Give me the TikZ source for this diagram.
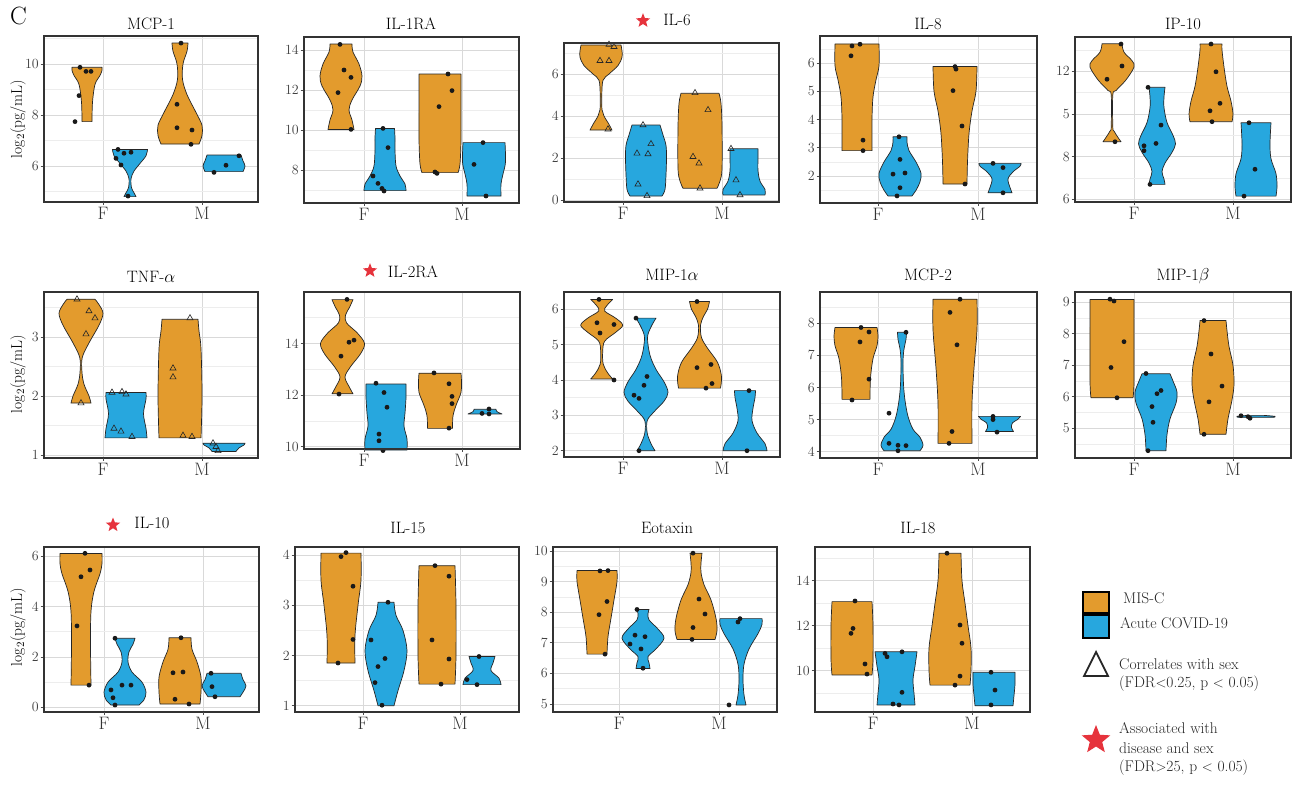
\documentclass[tikz,border=0pt]{standalone}
\usetikzlibrary{shapes.geometric}
\definecolor{orng}{HTML}{E39B2D}
\definecolor{blu}{HTML}{27A7DE}
\definecolor{gmaj}{HTML}{D9D9D9}
\definecolor{gmin}{HTML}{EDEDED}
\definecolor{strred}{HTML}{E6333C}
\tikzset{
 vio/.style={draw=black!85, line width=0.7pt, line join=round},
 gmajl/.style={gmaj, line width=0.8pt},
 gminl/.style={gmin, line width=0.5pt},
 tk/.style={black!70, line width=0.8pt},
 pfrm/.style={draw=black!80, line width=1.4pt},
 pdot/.style={circle, fill=black!90, inner sep=0pt, minimum size=4.8pt},
 tri/.style={regular polygon, regular polygon sides=3, draw=black!85, line width=0.6pt, inner sep=0pt, minimum size=7pt},
 tkl/.style={font=\fontsize{14}{16}\selectfont, text=black!75, inner sep=0pt, anchor=east},
 fm/.style={font=\fontsize{18}{20}\selectfont, text=black!80, anchor=base, inner sep=0pt},
 ttl/.style={font=\fontsize{16.5}{18}\selectfont, inner sep=0pt, anchor=base},
 rstar/.style={star, star points=5, star point ratio=2.3, fill=strred, draw=none, inner sep=0pt, minimum size=15pt},
 ylab/.style={font=\fontsize{15.5}{17}\selectfont, rotate=90, inner sep=0pt},
 leg/.style={font=\fontsize{15.5}{17}\selectfont, anchor=west, inner sep=0pt, text=black!85},
}
\newcommand\vio[3]{%
  \gdef\vR{}\gdef\vL{}%
  \foreach \vv/\ww in {#3}{%
    \xdef\vR{\vR (#1+\ww,\vv)}%
    \xdef\vL{(#1-\ww,\vv)\vL}%
  }%
  \edef\vcmd{\noexpand\filldraw[vio,fill=#2] plot[smooth,tension=0.55] coordinates {\vR} -- plot[smooth,tension=0.55] coordinates {\vL} -- cycle;}%
  \vcmd}
\newcommand\pts[1]{\foreach \px/\pv in {#1}{\node[pdot] at (\px,\pv) {};}}
\newcommand\tris[1]{\foreach \px/\pv in {#1}{\node[tri] at (\px,\pv) {};}}
\newcommand\hgr[4]{%
 \foreach \g in {#3}{\draw[gminl] (#1,\g) -- (#2,\g);}%
 \foreach \g/\lab in {#4}{\draw[gmajl] (#1,\g) -- (#2,\g); \draw[tk] (#1-3.5,\g) -- (#1,\g); \node[tkl] at (#1-5,\g) {\lab};}}
\newcommand\vgr[4]{\draw[gmajl] (#3,#1) -- (#3,#2); \draw[gmajl] (#4,#1) -- (#4,#2);}
\newcommand\frm[6]{%
 \draw[pfrm] (#1,#2) rectangle (#3,#4);
 \draw[tk] (#5,#4) -- ++(0,3); \draw[tk] (#6,#4) -- ++(0,3);
 \node[fm] at (#5,#4+17) {F}; \node[fm] at (#6,#4+17) {M};}
\begin{document}
\begin{tikzpicture}[x=1pt,y=-1pt]
\fill[white] (0,0) rectangle (1296,788);
\useasboundingbox (0,0) rectangle (1296,788);
\node[font=\fontsize{25}{27}\selectfont, anchor=base west, inner sep=0pt] (lab) at (10,24) {C};
\node[ylab] (y1) at (18,119) {log$_2$(pg/mL)};
\node[ylab] (y2) at (18,374) {log$_2$(pg/mL)};
\node[ylab] (y3) at (18,627) {log$_2$(pg/mL)};

% ---------- Panel 1 MCP-1
\vgr{36}{202}{103}{202}
\begin{scope}[shift={(0,319)},yscale=-25.5]
\hgr{44}{258}{5,7,9,11}{6/6,8/8,10/10}
\vio{87}{orng}{7.74/5, 8.5/5.5, 9.2/8, 9.55/13, 9.75/15, 9.87/15}
\vio{130}{blu}{4.8/6, 4.95/4, 5.15/1.5, 5.5/1, 5.8/4, 6.1/10, 6.4/16, 6.65/17.5}
\vio{180}{orng}{6.86/19, 7.2/22, 7.6/22, 8.1/16, 8.8/7, 9.4/2.5, 10.0/3, 10.5/7, 10.82/8}
\vio{224}{blu}{5.78/19, 6.0/21, 6.2/19, 6.43/17}
\pts{80/9.87, 86/9.71, 91/9.71, 79/8.76, 75/7.74, 118/6.65, 116/6.3, 124/6.5, 131/6.54, 121/6.04, 128/4.82, 181/10.82, 177/8.42, 177/7.5, 192/7.41, 191/6.85, 214/5.75, 226/6.03, 239/6.40}
\end{scope}
\frm{44}{36}{258}{202}{103}{202}
\node[ttl] (t1) at (151,29) {MCP-1};

% ---------- Panel 2 IL-1RA
\vgr{37}{203}{364}{462}
\begin{scope}[shift={(0,330)},yscale=-20]
\hgr{304}{519}{7,9,11,13}{8/8,10/10,12/12,14/14}
\vio{341}{orng}{10.03/13, 10.5/11, 11.0/8, 11.5/11, 12.2/19, 12.7/21, 13.3/18, 13.9/12, 14.3/11}
\vio{385}{blu}{6.97/21, 7.3/20, 7.7/15, 8.2/11, 9.0/10, 9.6/10, 10.08/9.5}
\vio{440}{orng}{7.87/18, 8.3/20, 9.5/21, 11/21, 12.8/21}
\vio{484}{blu}{6.7/17, 7.3/17, 7.8/19, 8.4/21.5, 9.37/21}
\pts{340/14.28, 344/13.0, 351/12.63, 338/11.87, 351/10.03, 383/10.08, 388/9.12, 373/7.7, 378/7.33, 382/7.08, 384/6.95, 448/12.8, 452/11.97, 439/11.17, 435/7.9, 437/7.83, 483/9.37, 474/8.28, 486/6.7}
\end{scope}
\frm{304}{37}{519}{203}{364}{462}
\node[ttl] (t2) at (411,29) {IL-1RA};

% ---------- Panel 3 IL-6
\vgr{43}{202}{623}{722}
\begin{scope}[shift={(0,200)},yscale=-21]
\hgr{564}{779}{1,3,5,7}{0/0,2/2,4/4,6/6}
\vio{601}{orng}{3.33/11, 3.6/8, 4.0/3, 4.3/1, 5.0/0.8, 5.7/2, 6.0/8, 6.4/17, 6.8/21, 7.1/21, 7.38/20}
\vio{646}{blu}{0.19/16, 0.5/19, 1.2/20, 2.0/20.5, 2.6/20, 3.1/17, 3.57/14}
\vio{700}{orng}{0.56/17, 0.9/20, 1.5/22, 3.5/22, 4.6/21, 5.08/19}
\vio{744}{blu}{0.24/21, 0.5/21, 0.9/16, 1.4/14, 2.0/14, 2.44/14}
\tris{609/7.4, 614/7.3, 600/6.63, 609/6.63, 608/3.37, 643/3.57, 651/2.67, 637/2.22, 648/2.19, 638/0.75, 647/0.2, 695/5.1, 708/4.29, 693/2.06, 699/1.75, 700/0.56, 731/2.44, 736/0.95, 740/0.24}
\end{scope}
\frm{564}{43}{779}{202}{623}{722}
\node[rstar] (s1) at (643,20.7) {};
\node[ttl] (t3) at (677,25) {IL-6};

% ---------- Panel 4 IL-8
\vgr{36}{203}{878}{978}
\begin{scope}[shift={(0,232.7)},yscale=-28.3]
\hgr{820}{1037}{1.5,2.5,3.5,4.5,5.5,6.5}{2/2,3/3,4/4,5/5,6/6}
\vio{857}{orng}{2.9/15, 4.0/15, 4.8/16, 5.4/19, 5.9/22, 6.67/22}
\vio{900}{blu}{1.3/12, 1.5/16, 1.8/20, 2.1/21, 2.5/16, 2.9/9, 3.2/7, 3.39/7}
\vio{955}{orng}{1.72/12, 2.5/12.5, 3.5/14, 4.3/17, 5.0/21, 5.87/22}
\vio{1000}{blu}{1.41/12, 1.6/10, 1.9/8, 2.15/13, 2.35/20, 2.45/21}
\pts{852/6.6, 860/6.66, 851/6.25, 863/3.27, 863/2.9, 899/3.39, 900/2.59, 893/2.07, 905/2.11, 900/1.59, 897/1.3, 955/5.87, 956/5.78, 953/5.02, 962/3.77, 965/1.72, 993/2.45, 1003/2.3, 1003/1.41}
\end{scope}
\frm{820}{36}{1037}{203}{878}{978}
\node[ttl] (t4) at (928,29) {IL-8};

% ---------- Panel 5 IP-10
\vgr{37}{202}{1134}{1233}
\begin{scope}[shift={(0,327.3)},yscale=-21.33]
\hgr{1075}{1291}{7,9,11,13}{6/6,8/8,10/5,12/12}
\vio{1112}{orng}{8.7/9, 8.9/6, 9.2/2, 9.4/0.8, 10.9/0.8, 11.1/4, 11.6/14, 12.2/22, 12.5/20, 12.9/12, 13.29/10}
\vio{1157}{blu}{6.7/8, 6.95/7, 7.3/5, 7.7/8, 8.2/15, 8.6/18.5, 9.0/16, 9.6/10, 10.3/7, 10.8/7, 11.25/8}
\vio{1211}{orng}{9.64/21, 10.0/22, 10.6/20, 11.3/16, 12.2/13, 13.0/11, 13.28/11}
\vio{1256}{blu}{6.15/20, 6.6/21, 7.2/20, 7.9/15, 8.6/14, 9.59/15}
\pts{1121/13.28, 1122/12.25, 1107/11.63, 1115/8.7, 1148/11.25, 1161/9.48, 1156/8.62, 1144/8.51, 1144/8.28, 1150/6.7, 1211/13.28, 1216/11.98, 1220/10.5, 1210/10.15, 1212/9.64, 1249/9.59, 1255/7.41, 1244/6.15}
\end{scope}
\frm{1075}{37}{1291}{202}{1134}{1233}
\node[ttl] (t5) at (1183,29) {IP-10};

% ---------- Panel 6 TNF-a
\vgr{292}{458}{103}{202}
\begin{scope}[shift={(0,514)},yscale=-59]
\hgr{44}{258}{1.5,2.5,3.5}{1/1,2/2,3/3}
\vio{81}{orng}{1.88/10, 2.0/8, 2.2/3, 2.4/1, 2.65/1.2, 2.9/8, 3.2/18, 3.4/22, 3.55/18, 3.64/14}
\vio{126}{blu}{1.29/21, 1.45/20, 1.7/17.5, 1.95/20, 2.06/20}
\vio{180}{orng}{1.29/21, 2.0/22, 2.8/21, 3.1/19, 3.30/18}
\vio{224}{blu}{1.06/12, 1.12/15, 1.17/20, 1.2/21}
\tris{77/3.64, 89/3.44, 95/3.32, 86/3.05, 81/1.88, 112/2.06, 122/2.07, 126/2.03, 114/1.45, 121/1.40, 132/1.31, 190/3.32, 173/2.47, 173/2.32, 183/1.33, 192/1.31, 213/1.2, 216/1.14, 218/1.07}
\end{scope}
\frm{44}{292}{258}{458}{103}{202}
\node[ttl] (t6) at (151,282) {TNF-$\alpha$};

% ---------- Panel 7 IL-2RA
\vgr{292}{449}{364}{462}
\begin{scope}[shift={(0,704.7)},yscale=-25.8]
\hgr{304}{520}{11,13,15}{10/10,12/12,14/14}
\vio{342.5}{orng}{12.05/10.5, 12.3/7, 12.7/2.5, 13.1/8, 13.6/18, 14.0/22, 14.4/15, 14.8/4, 15.1/3, 15.4/7, 15.7/10.5}
\vio{386}{blu}{9.87/21, 10.3/21, 10.8/18, 11.3/19, 11.9/20, 12.43/20}
\vio{440}{orng}{10.71/12.5, 11.2/13, 11.6/16, 12.1/21, 12.5/21.5, 12.85/21}
\vio{485}{blu}{11.27/17, 11.36/12, 11.45/11}
\pts{347/15.71, 349/14.05, 354/14.13, 341/13.51, 339/12.04, 376/12.46, 384/12.1, 387/11.53, 379/10.49, 379/10.23, 383/9.85, 434/12.86, 449/12.44, 452/11.95, 452/11.67, 449/10.72, 489/11.46, 482/11.29, 489/11.27}
\end{scope}
\frm{304}{292}{520}{449}{364}{462}
\node[rstar] (s2) at (370,270.7) {};
\node[ttl] (t7) at (413,277) {IL-2RA};

% ---------- Panel 8 MIP-1a
\vgr{292}{457}{623}{722}
\begin{scope}[shift={(0,521.4)},yscale=-35.35]
\hgr{564}{780}{2.5,3.5,4.5,5.5}{2/2,3/3,4/4,5/5,6/6}
\vio{601.7}{orng}{4.03/11, 4.2/6, 4.45/1.5, 4.8/1, 5.1/3, 5.35/14, 5.55/21, 5.75/14, 5.95/3, 6.1/5, 6.28/11}
\vio{646}{blu}{2.0/9, 2.2/5, 2.5/1.2, 2.85/1.2, 3.1/8, 3.4/18, 3.65/22, 3.95/18, 4.3/10, 4.7/4, 5.2/1.5, 5.5/5, 5.75/10}
\vio{699.5}{orng}{3.77/21, 4.1/22, 4.5/18, 4.9/8, 5.2/2, 5.55/1, 5.8/4, 6.0/8, 6.22/10}
\vio{745}{blu}{2.0/22, 2.2/20, 2.5/12, 2.85/7, 3.2/8, 3.5/10, 3.7/10.5}
\pts{599/6.28, 597/5.62, 614/5.57, 600/5.33, 614/4.0, 636/5.75, 647/4.1, 644/3.85, 634/3.57, 639/3.48, 639/2.0, 697/6.22, 697/4.35, 711/4.44, 712/3.9, 706/3.77, 749/3.7, 747/2.0}
\end{scope}
\frm{564}{292}{780}{457}{623}{722}
\node[ttl] (t8) at (672,280) {MIP-1$\alpha$};

% ---------- Panel 9 MCP-2
\vgr{292}{458}{878}{978}
\begin{scope}[shift={(0,580.1)},yscale=-32.1]
\hgr{820}{1037}{4.5,5.5,6.5,7.5,8.5}{4/4,5/5,6/6,7/7,8/8}
\vio{856}{orng}{5.63/14, 6.3/14.5, 6.9/17, 7.3/21, 7.6/22, 7.87/21}
\vio{902}{blu}{4.03/18, 4.2/21, 4.45/18, 4.7/11, 5.1/6, 5.6/3, 6.1/1.5, 6.8/1, 7.2/2, 7.5/4, 7.72/4.5}
\vio{955}{orng}{4.26/17, 5.5/17, 6.6/19, 7.8/22, 8.75/22}
\vio{999.5}{blu}{4.63/14, 4.75/12, 4.9/13, 5.0/18, 5.1/21}
\pts{861/7.87, 869/7.73, 860/7.42, 869/6.26, 852/5.61, 906/7.72, 889/5.2, 889/4.26, 898/4.2, 906/4.19, 898/4.03, 960/8.75, 950/8.34, 957/7.33, 952/4.63, 949/4.26, 993/5.1, 993/5.0, 997/4.61}
\end{scope}
\frm{820}{292}{1037}{458}{878}{978}
\node[ttl] (t9) at (928,280) {MCP-2};

% ---------- Panel 10 MIP-1b
\vgr{292}{458}{1134}{1233}
\begin{scope}[shift={(0,585.8)},yscale=-31.5]
\hgr{1075}{1291}{4.5,5.5,6.5,7.5,8.5}{5/5,6/6,7/7,8/8,9/9}
\vio{1112}{orng}{5.97/21, 6.5/22, 8.5/22, 9.09/22}
\vio{1156}{blu}{4.29/10, 4.8/11, 5.3/14, 5.8/20, 6.15/21, 6.5/17, 6.73/14}
\vio{1213}{orng}{4.81/13, 5.3/15, 5.9/19, 6.4/21, 7.0/20, 7.6/16, 8.1/14, 8.42/13}
\vio{1256}{blu}{5.35/18, 5.38/19, 5.41/8}
\pts{1110/9.1, 1114/9.04, 1124/7.75, 1111/6.93, 1117/5.97, 1146/6.74, 1161/6.2, 1157/6.1, 1152/5.69, 1153/5.19, 1148/4.29, 1204/8.42, 1211/7.36, 1222/6.34, 1209/5.84, 1204/4.81, 1241/5.4, 1248/5.37, 1250/5.32}
\end{scope}
\frm{1075}{292}{1291}{458}{1134}{1233}
\node[ttl] (t10) at (1183,280) {MIP-1$\beta$};

% ---------- Panel 11 IL-10
\vgr{547}{712}{104}{203}
\begin{scope}[shift={(0,707.3)},yscale=-25.2]
\hgr{44}{259}{1,3,5}{0/0,2/2,4/4,6/6}
\vio{81}{orng}{0.88/10, 2.5/9.5, 3.8/10, 4.6/13, 5.3/19, 5.7/21, 6.1/21}
\vio{125}{blu}{0.09/14, 0.3/19, 0.6/21, 1.0/17, 1.4/7, 1.8/3, 2.2/4, 2.5/8, 2.74/10}
\vio{180}{orng}{0.13/20, 0.6/21, 1.2/21, 1.8/17, 2.3/12, 2.76/11}
\vio{224}{blu}{0.42/16, 0.6/19, 0.85/22, 1.1/19, 1.35/17}
\pts{85/6.11, 90/5.45, 81/5.18, 77/3.23, 89/0.88, 115/2.74, 122/0.88, 131/0.88, 111/0.69, 113/0.38, 115/0.09, 181/2.76, 173/1.37, 183/1.4, 175/0.32, 189/0.13, 211/1.35, 212/0.82, 215/0.42}
\end{scope}
\frm{44}{547}{259}{712}{104}{203}
\node[rstar] (s3) at (113,525) {};
\node[ttl] (t11) at (152,528) {IL-10};

% ---------- Panel 12 IL-15
\vgr{547}{712}{363}{460}
\begin{scope}[shift={(0,755.9)},yscale=-50.2]
\hgr{295}{519}{1.5,2.5,3.5}{1/1,2/2,3/3,4/4}
\vio{341}{orng}{1.85/14, 2.4/14, 3.0/17, 3.5/20, 4.04/20}
\vio{386}{blu}{1.0/8, 1.3/12, 1.7/18, 2.1/21, 2.5/17, 2.8/10, 3.06/8}
\vio{437}{orng}{1.43/18, 2.0/19, 3.0/19, 3.79/18}
\vio{482}{blu}{1.42/19, 1.55/17, 1.7/9, 1.85/11, 1.98/13}
\pts{346/4.05, 341/3.97, 353/3.38, 353/2.32, 338/1.85, 388/3.06, 371/2.31, 385/1.94, 378/1.78, 375/1.46, 382/1.01, 435/3.79, 449/3.58, 432/2.31, 449/1.93, 441/1.43, 479/1.98, 467/1.52, 477/1.42}
\end{scope}
\frm{295}{547}{519}{712}{363}{460}
\node[ttl] (t12) at (408,533) {IL-15};

% ---------- Panel 13 Eotaxin
\vgr{547}{712}{619}{719}
\begin{scope}[shift={(0,857)},yscale=-30.6]
\hgr{553}{777}{5.5,6.5,7.5,8.5,9.5}{5/5,6/6,7/7,8/8,9/9,10/10}
\vio{597}{orng}{6.63/10, 7.2/11, 7.8/14, 8.4/17, 9.0/20, 9.36/20}
\vio{643}{blu}{6.16/7, 6.35/6, 6.55/5, 6.8/13, 7.15/21, 7.45/15, 7.75/6, 7.95/5, 8.09/6}
\vio{696}{orng}{7.11/19, 7.4/21, 7.8/20, 8.4/15, 8.9/8, 9.3/5, 9.6/5, 9.93/6}
\vio{741}{blu}{4.97/5, 5.3/3, 5.8/2, 6.3/3, 6.8/8, 7.3/17, 7.6/21, 7.79/21}
\pts{600/9.35, 608/9.36, 607/8.35, 599/7.92, 605/6.63, 637/8.09, 635/7.25, 645/7.2, 630/6.96, 641/6.8, 643/6.17, 693/9.93, 699/8.43, 705/7.94, 693/7.5, 692/7.11, 740/7.79, 738/7.68, 729/4.97}
\end{scope}
\frm{553}{547}{777}{712}{619}{719}
\node[ttl] (t13) at (667,533) {Eotaxin};

% ---------- Panel 14 IL-18
\vgr{547}{712}{873}{972}
\begin{scope}[shift={(0,895.7)},yscale=-22.5]
\hgr{815}{1030}{9,11,13,15}{10/10,12/12,14/14}
\vio{852}{orng}{9.81/20, 10.5/21, 12/21, 13.07/20}
\vio{896}{blu}{8.48/19, 9.0/18, 9.6/17, 10.2/19, 10.84/21}
\vio{950}{orng}{9.36/20, 10.0/21, 11.0/21, 12.0/18, 13.0/15, 14.0/12, 15.22/11}
\vio{994}{blu}{8.44/19, 8.9/20, 9.4/21, 9.93/21}
\pts{855/13.1, 853/11.88, 851/11.66, 865/10.3, 867/9.85, 885/10.77, 887/10.62, 902/10.84, 902/9.04, 893/8.52, 899/8.48, 947/15.22, 960/12.03, 962/11.22, 960/9.76, 955/9.36, 991/9.93, 995/9.14, 991/8.48}
\end{scope}
\frm{815}{547}{1030}{712}{873}{972}
\node[ttl] (t14) at (918,533) {IL-18};

% ---------- Legend
\draw[line width=1.4pt, fill=orng] (1083,592) rectangle (1109,613);
\draw[line width=1.4pt, fill=blu] (1083,615) rectangle (1109,638);
\draw[line width=1.8pt, black!85, line join=miter] (1084,676) -- (1108,676) -- (1096,652) -- cycle;
\node[rstar, minimum size=30pt] (ls) at (1096,740) {};
\node[leg] (l1) at (1123,598) {MIS-C};
\node[leg] (l2) at (1120,623) {Acute COVID-19};
\node[leg] (l3) at (1119,664) {Correlates with sex};
\node[leg] (l4) at (1119,684) {(FDR$<$0.25, p $<$ 0.05)};
\node[leg] (l5) at (1119,728) {Associated with};
\node[leg] (l6) at (1119,748) {disease and sex};
\node[leg] (l7) at (1119,768) {(FDR$>$25, p $<$ 0.05)};
\end{tikzpicture}
\end{document}
